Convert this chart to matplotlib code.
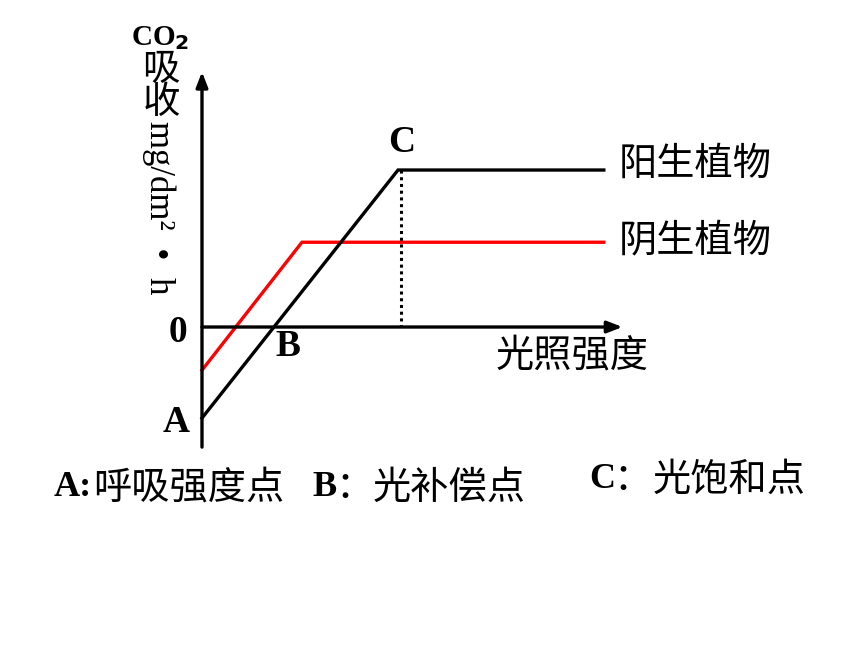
import matplotlib
matplotlib.use("Agg")
import matplotlib.pyplot as plt

plt.rcParams['font.family'] = ['Noto Sans CJK SC', 'DejaVu Sans']

# data (arbitrary units): light intensity vs CO2 uptake
light_sun = [0, 2.0, 4.1]
co2_sun = [-1.16, 2.0, 2.0]
light_shade = [0, 1.02, 4.1]
co2_shade = [-0.55, 1.08, 1.08]
x_axis_end = 4.29
y_axis_range = [-1.53, 3.25]
label_sun = "阳生植物"
label_shade = "阴生植物"
xlabel = "光照强度"

fig = plt.figure(figsize=(8.6, 6.45), dpi=100)
ax = fig.add_axes([0, 0, 1, 1])
ax.set_xlim(-2.061, 6.714)
ax.set_ylim(-4.051, 4.166)
ax.axis("off")

def fx(px):
    return px / 860

def fy(py):
    return 1 - py / 645

serif = dict(family="Liberation Serif", weight="bold")

# axes with arrows
arrow = dict(arrowstyle="-|>,head_length=0.9,head_width=0.35", color="black", lw=2.4,
             shrinkA=0, shrinkB=0)
ax.annotate("", xy=(0, y_axis_range[1]), xytext=(0, y_axis_range[0]), arrowprops=arrow)
ax.annotate("", xy=(x_axis_end, 0), xytext=(0, 0), arrowprops=arrow)

# curves
ax.plot(light_shade, co2_shade, color="#ff0000", lw=2.4, solid_joinstyle="miter")
ax.plot(light_sun, co2_sun, color="black", lw=2.4, solid_joinstyle="miter")
ax.plot([light_sun[1] + 0.03] * 2, [co2_sun[1], 0], color="black", lw=2.2, ls=(0, (1, 1.2)))

# curve labels
fig.text(fx(619), fy(164), label_sun, fontsize=27.5, va="center", ha="left")
fig.text(fx(619), fy(241), label_shade, fontsize=27.5, va="center", ha="left")
fig.text(fx(496), fy(356), xlabel, fontsize=27.5, va="center", ha="left")

# point labels
fig.text(fx(176), fy(422), "A", fontsize=27, va="center", ha="center", **serif)
fig.text(fx(178), fy(333), "0", fontsize=27, va="center", ha="center", **serif)
fig.text(fx(288), fy(347), "B", fontsize=27, va="center", ha="center", **serif)
fig.text(fx(402), fy(143), "C", fontsize=27, va="center", ha="center", **serif)

# y label
fig.text(fx(160), fy(38), r"CO$_\mathbf{2}$", fontsize=21, va="center", ha="center", **serif)
fig.text(fx(161), fy(86), "吸\n收", fontsize=27, va="center", ha="center", linespacing=0.78)
fig.text(fx(159), fy(208), "mg/dm²  •  h", fontsize=25, va="center", ha="center",
         rotation=-90, family="Liberation Serif")

# legend of points
fig.text(fx(54), fy(488), "A:", fontsize=26, va="center", ha="left", **serif)
fig.text(fx(93), fy(488), "呼吸强度点", fontsize=27.5, va="center", ha="left")
fig.text(fx(312), fy(488), "B", fontsize=26, va="center", ha="left", **serif)
fig.text(fx(335), fy(488), "：", fontsize=27.5, va="center", ha="left")
fig.text(fx(373), fy(488), "光补偿点", fontsize=27.5, va="center", ha="left")
fig.text(fx(589), fy(480), "C", fontsize=26, va="center", ha="left", **serif)
fig.text(fx(613), fy(480), "：", fontsize=27.5, va="center", ha="left")
fig.text(fx(653), fy(480), "光饱和点", fontsize=27.5, va="center", ha="left")

fig.savefig("out.png", dpi=100)
